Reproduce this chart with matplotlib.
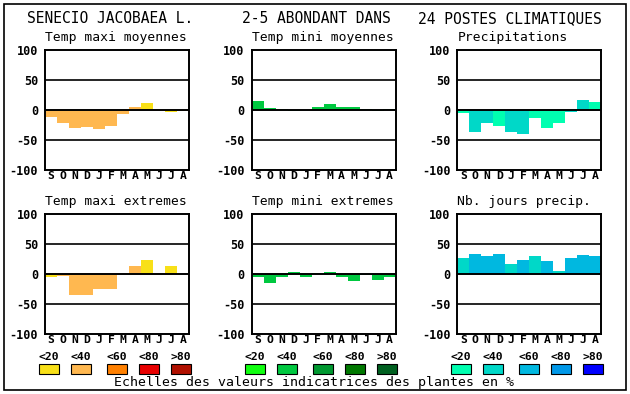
import matplotlib
matplotlib.use("Agg")
import matplotlib.pyplot as plt
from matplotlib.patches import Rectangle

# data
months = ['S', 'O', 'N', 'D', 'J', 'F', 'M', 'A', 'M', 'J', 'J', 'A']
yticks = [100, 50, 0, -50, -100]

titles = ['Temp maxi moyennes', 'Temp mini moyennes', 'Precipitations',
          'Temp maxi extremes', 'Temp mini extremes', 'Nb. jours precip.']

tmax_moy = [-12, -22, -30, -28, -32, -27, -7, 5, 11, -2, -4, -2]
tmax_moy_cls = [1, 1, 1, 1, 1, 1, 1, 1, 0, 1, 0, 1]
tmin_moy = [15, 4, 2, -2, 0, 5, 10, 5, 5, 2, -2, 2]
tmin_moy_cls = [1, 1, 1, 1, 1, 1, 1, 1, 1, 1, 1, 1]
precip = [-5, -37, -22, -27, -37, -40, -14, -30, -22, -4, 17, 14]
precip_cls = [0, 1, 1, 0, 1, 1, 0, 0, 0, 1, 1, 0]
tmax_ext = [-4, -3, -35, -35, -25, -25, 0, 14, 24, 0, 14, 0]
tmax_ext_cls = [0, 1, 1, 1, 1, 1, 1, 1, 0, 1, 0, 1]
tmin_ext = [-4, -15, -5, 4, -5, 2, 4, -5, -12, -1.5, -10, -4]
tmin_ext_cls = [1, 1, 1, 1, 1, 1, 1, 1, 1, 1, 1, 1]
nb_jours = [27, 33, 30, 33, 17, 24, 30, 22, 5, 27, 32, 30]
nb_jours_cls = [1, 2, 2, 2, 1, 2, 1, 2, 1, 2, 2, 2]

scale_labels = ['<20', '<40', '<60', '<80', '>80']
warm = ['#f8e018', '#ffb850', '#ff8000', '#e80000', '#b01000']
green = ['#10ff10', '#00c840', '#009830', '#007800', '#006020']
blue = ['#00ffb0', '#00d8c8', '#00b8e0', '#0098e8', '#0000ff']

W, H = 630, 394
fig = plt.figure(figsize=(W / 100, H / 100), dpi=100)
mono = 'DejaVu Sans Mono'


def px(x, y):
    return x / W, 1 - y / H


panels = [
    (tmax_moy, tmax_moy_cls, warm),
    (tmin_moy, tmin_moy_cls, green),
    (precip, precip_cls, blue),
    (tmax_ext, tmax_ext_cls, warm),
    (tmin_ext, tmin_ext_cls, green),
    (nb_jours, nb_jours_cls, blue),
]
lefts = [45, 251.5, 457.3]
bottoms = [170, 334.3]

for i, (vals, cls, pal) in enumerate(panels):
    r, c = divmod(i, 3)
    x0, y0 = px(lefts[c], bottoms[r])
    ax = fig.add_axes([x0, y0, 144 / W, 120 / H])
    ax.bar(range(12), vals, width=1.0, color=[pal[k] for k in cls],
           edgecolor='none', zorder=2)
    for y in (50, -50):
        ax.axhline(y, color='black', lw=1.2, zorder=1)
    ax.axhline(0, color='black', lw=1.4, zorder=3)
    ax.set_xlim(-0.5, 11.5)
    ax.set_ylim(-100, 100)
    ax.set_xticks(range(12))
    ax.set_xticklabels(months, fontfamily=mono, fontweight='bold', fontsize=8.2)
    ax.set_yticks(yticks)
    ax.set_yticklabels([str(v) for v in yticks], fontfamily=mono,
                       fontweight='bold', fontsize=8.5)
    ax.tick_params(axis='y', length=0, pad=5)
    ax.tick_params(axis='x', length=0, pad=0.5)
    for s in ax.spines.values():
        s.set_linewidth(1.4)
    tx, ty = px(lefts[c], bottoms[r] - 120 - 9)
    fig.text(tx, ty, titles[i], fontfamily=mono, fontsize=9.4,
             ha='left', va='baseline')

# main title
fig.text(*px(27, 23), 'SENECIO JACOBAEA L.', fontfamily=mono, fontsize=10.5,
         ha='left', va='baseline')
fig.text(*px(242, 23), '2-5 ABONDANT DANS', fontfamily=mono, fontsize=10.5,
         ha='left', va='baseline')
fig.text(*px(602, 23), '24 POSTES CLIMATIQUES', fontfamily=mono, fontsize=10.5,
         ha='right', va='baseline')

# colour scales
box_offsets = [0, 32, 68, 100, 132]
group_lefts = [39, 245, 451]
for g, pal in zip(group_lefts, [warm, green, blue]):
    for k, off in enumerate(box_offsets):
        bx = g + off
        fig.patches.append(Rectangle(px(bx, 374), 20 / W, 10 / H,
                                     transform=fig.transFigure,
                                     facecolor=pal[k], edgecolor='black', lw=0.8))
        fig.text(*px(bx + 10, 356.5), scale_labels[k], fontfamily=mono,
                 fontweight='bold', fontsize=8.2, ha='center', va='center')

fig.text(*px(314.5, 382.5), 'Echelles des valeurs indicatrices des plantes en %',
         fontfamily=mono, fontsize=9.5, ha='center', va='center')

# outer frame
fig.patches.append(Rectangle(px(4, 390), 622 / W, 386 / H,
                             transform=fig.transFigure, fill=False,
                             edgecolor='black', lw=1.2))

fig.savefig('out.png', dpi=100)
